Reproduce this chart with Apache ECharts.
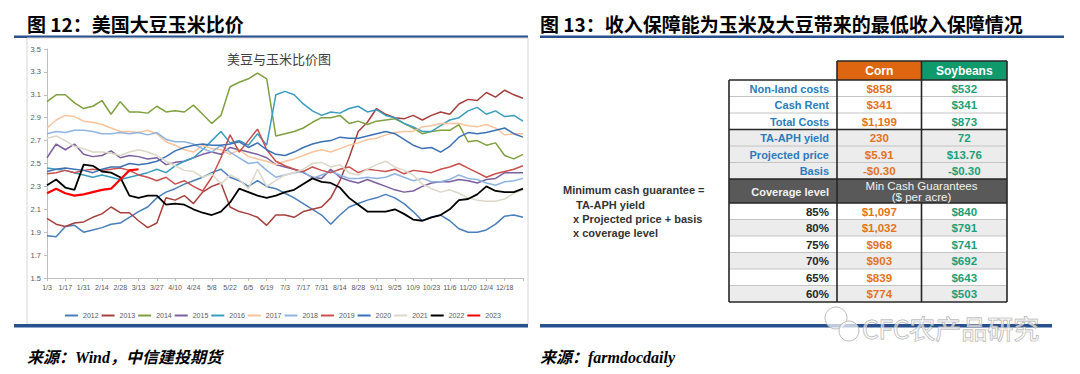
<!DOCTYPE html>
<html><head><meta charset="utf-8">
<script src="https://cdn.jsdelivr.net/npm/echarts@6/dist/echarts.min.js"></script>
<style>html,body{margin:0;padding:0;background:#fff}#c{width:1080px;height:374px}</style>
</head><body><div id="c"></div>
<script>
// ---------- data ----------
const weeks = ['1/3','1/10','1/17','1/24','1/31','2/7','2/14','2/21','2/28','3/6','3/13','3/20','3/27','4/3','4/10','4/17','4/24','5/1','5/8','5/15','5/22','5/29','6/5','6/12','6/19','6/26','7/3','7/10','7/17','7/24','7/31','8/7','8/14','8/21','8/28','9/4','9/11','9/18','9/25','10/2','10/9','10/16','10/23','10/30','11/6','11/13','11/20','11/27','12/4','12/11','12/18','12/25','1/1'];
const yTicks = [1.5,1.7,1.9,2.1,2.3,2.5,2.7,2.9,3.1,3.3,3.5];
const years = ['2012','2013','2014','2015','2016','2017','2018','2019','2020','2021','2022','2023'];

const s2012 = [1.87,1.86,1.95,1.96,1.90,1.92,1.94,1.97,1.98,2.03,2.08,2.12,2.20,2.25,2.28,2.32,2.35,2.38,2.42,2.45,2.38,2.35,2.30,2.35,2.30,2.28,2.24,2.20,2.15,2.10,2.05,1.97,2.05,2.12,2.15,2.18,2.20,2.23,2.20,2.15,2.08,2.00,2.03,2.05,2.00,1.93,1.90,1.90,1.92,1.97,2.04,2.05,2.03];
const s2013 = [2.02,1.97,1.95,1.98,1.99,2.03,2.06,2.12,2.07,2.07,2.00,1.94,1.98,2.20,2.18,2.22,2.15,2.25,2.30,2.33,2.12,2.08,2.06,2.03,1.96,2.05,2.05,2.03,2.08,2.10,2.12,2.20,2.35,2.55,2.78,2.86,2.98,2.93,2.90,2.89,2.92,2.88,2.92,2.95,2.93,3.02,3.06,3.05,3.12,3.08,3.14,3.10,3.07];
const s2014 = [3.04,3.10,3.10,3.03,2.98,3.00,3.05,2.93,3.04,2.95,2.95,2.94,3.00,2.95,2.96,2.95,3.01,2.93,2.85,2.92,3.17,3.21,3.24,3.29,3.24,2.74,2.76,2.78,2.81,2.86,2.90,2.90,2.92,2.85,2.87,2.84,2.87,2.88,2.89,2.85,2.81,2.76,2.78,2.79,2.79,2.84,2.69,2.70,2.66,2.68,2.57,2.54,2.58];
const s2015 = [2.55,2.67,2.62,2.67,2.58,2.56,2.57,2.61,2.55,2.57,2.56,2.54,2.55,2.49,2.51,2.52,2.55,2.58,2.60,2.58,2.64,2.62,2.60,2.58,2.55,2.49,2.47,2.45,2.42,2.38,2.37,2.45,2.38,2.35,2.33,2.36,2.33,2.30,2.27,2.25,2.26,2.30,2.33,2.34,2.34,2.36,2.35,2.33,2.36,2.37,2.42,2.42,2.42];
const s2016 = [2.46,2.45,2.44,2.42,2.40,2.38,2.40,2.38,2.36,2.38,2.40,2.42,2.45,2.42,2.48,2.52,2.55,2.62,2.70,2.78,2.68,2.70,2.66,2.76,2.66,3.10,3.13,3.10,3.02,2.96,2.92,2.95,2.94,2.98,3.00,2.95,2.97,2.92,2.90,2.85,2.82,2.78,2.78,2.83,2.88,2.90,2.96,2.99,2.93,2.96,2.91,2.92,2.87];
const s2017 = [2.81,2.88,2.92,2.91,2.87,2.86,2.84,2.81,2.78,2.78,2.77,2.79,2.76,2.69,2.66,2.62,2.60,2.66,2.63,2.62,2.58,2.62,2.56,2.54,2.52,2.49,2.52,2.54,2.57,2.60,2.62,2.60,2.63,2.66,2.68,2.71,2.72,2.75,2.77,2.78,2.78,2.82,2.83,2.85,2.85,2.85,2.83,2.82,2.84,2.81,2.75,2.76,2.76];
const s2018 = [2.76,2.78,2.77,2.79,2.79,2.78,2.76,2.76,2.77,2.76,2.77,2.75,2.77,2.71,2.69,2.69,2.67,2.63,2.60,2.66,2.60,2.55,2.50,2.51,2.44,2.38,2.40,2.42,2.43,2.37,2.40,2.43,2.40,2.37,2.37,2.38,2.37,2.38,2.41,2.38,2.35,2.37,2.34,2.34,2.36,2.40,2.37,2.36,2.33,2.31,2.34,2.35,2.37];
const s2019 = [2.41,2.42,2.44,2.42,2.44,2.45,2.44,2.45,2.46,2.44,2.40,2.38,2.35,2.38,2.32,2.35,2.30,2.26,2.38,2.55,2.75,2.60,2.70,2.80,2.62,2.52,2.48,2.45,2.43,2.47,2.44,2.42,2.45,2.47,2.42,2.45,2.44,2.43,2.45,2.41,2.44,2.43,2.42,2.45,2.47,2.50,2.46,2.42,2.38,2.41,2.43,2.45,2.48];
const s2020 = [2.43,2.45,2.46,2.45,2.44,2.42,2.45,2.47,2.47,2.50,2.49,2.50,2.52,2.56,2.61,2.64,2.66,2.67,2.66,2.66,2.67,2.69,2.64,2.68,2.62,2.58,2.57,2.60,2.64,2.67,2.69,2.70,2.73,2.72,2.72,2.74,2.76,2.78,2.76,2.71,2.66,2.63,2.64,2.60,2.65,2.73,2.77,2.76,2.77,2.79,2.81,2.76,2.73];
const s2021 = [2.72,2.74,2.70,2.65,2.63,2.60,2.60,2.59,2.57,2.60,2.62,2.60,2.57,2.52,2.48,2.44,2.43,2.38,2.41,2.32,2.40,2.36,2.28,2.45,2.30,2.35,2.40,2.42,2.45,2.50,2.51,2.47,2.49,2.42,2.40,2.45,2.49,2.52,2.47,2.44,2.40,2.32,2.28,2.25,2.27,2.24,2.20,2.18,2.17,2.17,2.19,2.24,2.27];
const s2022 = [2.31,2.36,2.29,2.27,2.49,2.48,2.43,2.42,2.38,2.22,2.20,2.22,2.22,2.14,2.15,2.14,2.10,2.07,2.05,2.08,2.16,2.28,2.25,2.22,2.20,2.22,2.25,2.27,2.32,2.37,2.34,2.33,2.29,2.20,2.14,2.08,2.08,2.08,2.10,2.06,2.01,2.00,2.03,2.05,2.10,2.18,2.19,2.23,2.30,2.26,2.25,2.25,2.28];
const s2023 = [2.24,2.28,2.24,2.22,2.23,2.25,2.27,2.28,2.36,2.44,2.45];

// table
const tableHeaders = ['Corn','Soybeans'];
const rowLabels = ['Non-land costs','Cash Rent','Total Costs','TA-APH yield','Projected price','Basis'];
const cornVals = ['$858','$341','$1,199','230','$5.91','-$0.30'];
const soyVals = ['$532','$341','$873','72','$13.76','-$0.30'];
const coverageHead = 'Coverage level';
const guarHead = ['Min Cash Guarantees','($ per acre)'];
const coverageLevels = ['85%','80%','75%','70%','65%','60%'];
const cornGuar = ['$1,097','$1,032','$968','$903','$839','$774'];
const soyGuar = ['$840','$791','$741','$692','$643','$503'];
const formulaLines = ['Minimum cash guarantee =','TA-APH yield','x Projected price + basis','x coverage level'];

// texts
const leftTitle = '图 12：美国大豆玉米比价';
const rightTitle = '图 13：收入保障能为玉米及大豆带来的最低收入保障情况';
const chartTitle = '美豆与玉米比价图';
const leftSource = '来源：Wind，中信建投期货';
const rightSource = '来源：farmdocdaily';
const watermark = 'CFC农产品研究';

// ---------- styles ----------
const seriesData = [s2012,s2013,s2014,s2015,s2016,s2017,s2018,s2019,s2020,s2021,s2022,s2023];
const colors = ['#4a7ebb','#a5403d','#80a040','#7b5fa0','#3a9cbf','#f9c49c','#8fb4e2','#c8504d','#3d71b5','#dcd8c8','#000000','#ff0000'];
const widths = [1.5,1.5,1.5,1.5,1.5,1.5,1.5,1.5,1.5,1.5,1.8,2.2];
const NAVY = '#27508f';
const CJK = '"Noto Sans CJK SC"';
const ARIAL = '"Liberation Sans", Arial';

const G = [];
function rect(x,y,w,h,fill,stroke,lw,z){G.push({type:'rect',shape:{x,y,width:w,height:h},style:{fill:fill||'none',stroke:stroke||null,lineWidth:lw||0},z:z||1,silent:true});}
function line(x1,y1,x2,y2,stroke,lw,z){G.push({type:'line',shape:{x1,y1,x2,y2},style:{stroke,lineWidth:lw},z:z||3,silent:true});}
function text(t,x,y,font,fill,align,extra,z){G.push({type:'text',x,y,style:Object.assign({text:t,font,fill,textAlign:align||'left',textVerticalAlign:'middle'},extra||{}),z:z||5,silent:true});}

// headers and bars
text(leftTitle,27,23,'bold 19px '+CJK,'#000');
text(rightTitle,540,23,'bold 19px '+CJK,'#000');
rect(14,35.5,514,2.5,NAVY);
rect(540,35.5,524,2.5,NAVY);
rect(27,38,501,286,'none','#d6d6d6',1);
rect(14,324,514,3.5,NAVY,null,0,2);
rect(540,324,512,3.5,NAVY,null,0,2);
text(leftSource,27,357,'italic bold 16px "Liberation Serif", '+CJK,'#000');
text(rightSource,540,357,'italic bold 16px "Liberation Serif", '+CJK,'#000');
text(chartTitle,279,58,'13px '+CJK,'#404040','center');

// watermark
G.push({type:'circle',shape:{cx:836,cy:318,r:11},style:{fill:'rgba(255,255,255,0.7)',stroke:'#bdbdbd',lineWidth:1},z:6,silent:true});
G.push({type:'circle',shape:{cx:849,cy:331,r:10},style:{fill:'rgba(255,255,255,0.7)',stroke:'#bdbdbd',lineWidth:1},z:6,silent:true});
text(watermark,862,327,'26px '+CJK,'rgba(255,255,255,0.55)','left',{stroke:'#a9a9a9',lineWidth:0.9},7);

// formula text
const fx = [563,576,573,573], fy = [190,204.5,218.5,232.5];
formulaLines.forEach((t,i)=>text(t,fx[i],fy[i],'bold 11px '+ARIAL,'#333'));

// table geometry
const TL=729, C1=837, C2=921.5, TR=1007;
const HT=61, HB=80, RH=16.5, DH0=179, DH1=203;
const cornX=(C1+C2)/2, soyX=(C2+TR)/2, labX=C1-8;
rect(C1,HT,C2-C1,HB-HT,'#df6611');
rect(C2,HT,TR-C2,HB-HT,'#0f9a6c');
text(tableHeaders[0],cornX,(HT+HB)/2+0.5,'bold 12px '+ARIAL,'#fff','center');
text(tableHeaders[1],soyX,(HT+HB)/2+0.5,'bold 12px '+ARIAL,'#fff','center');
rowLabels.forEach((lab,i)=>{
  const y0=HB+i*RH, cy=y0+RH/2+0.5;
  rect(TL,y0,TR-TL,RH,i>=3?'#ececec':'#ffffff');
  text(lab,labX,cy,'bold 11px '+ARIAL,'#2b7bbd','right');
  text(cornVals[i],cornX,cy,'bold 11.5px '+ARIAL,'#e4731c','center');
  text(soyVals[i],soyX,cy,'bold 11.5px '+ARIAL,'#1c9f78','center');
  if(i>0 && i!==3) line(TL,y0,TR,y0,'#c4c4c4',1);
});
rect(TL,DH0,TR-TL,DH1-DH0,'#595959');
text(coverageHead,labX,(DH0+DH1)/2+0.5,'bold 11px '+ARIAL,'#f2f2f2','right');
text(guarHead[0],C2,185.5,'11.5px '+ARIAL,'#f2f2f2','center');
text(guarHead[1],C2,196.5,'11.5px '+ARIAL,'#f2f2f2','center');
coverageLevels.forEach((lab,i)=>{
  const y0=DH1+i*RH, cy=y0+RH/2+0.5;
  rect(TL,y0,TR-TL,RH,i%2===1?'#ececec':'#ffffff');
  text(lab,labX,cy,'bold 11.5px '+ARIAL,'#262626','right');
  text(cornGuar[i],cornX,cy,'bold 11.5px '+ARIAL,'#e4731c','center');
  text(soyGuar[i],soyX,cy,'bold 11.5px '+ARIAL,'#1c9f78','center');
  if(i>0) line(TL,y0,TR,y0,'#c4c4c4',1);
});
const TB = DH1+6*RH;
[HB, HB+3*RH, DH0, DH1, TB].forEach(y=>line(TL,y,TR,y,'#262626',1.6,4));
line(C1,HT,TR,HT,'#262626',1.6,4);
line(TL,HB,TL,TB,'#262626',1.6,4);
line(C1,HT,C1,TB,'#262626',1.6,4);
line(C2,HT,C2,DH0,'#262626',1.6,4);
line(C2,DH1,C2,TB,'#262626',1.6,4);
line(TR,HT,TR,TB,'#262626',1.6,4);

// ---------- chart ----------
const chart = echarts.init(document.getElementById('c'), null, {renderer:'svg', width:1080, height:374});
chart.setOption({
  animation:false,
  backgroundColor:'#fff',
  grid:{left:47,right:557,top:49,bottom:96},
  legend:{
    data:years, top:307, left:60, icon:'rect', itemWidth:13, itemHeight:2, itemGap:3,
    textStyle:{fontSize:7, color:'#595959', fontFamily:ARIAL}
  },
  xAxis:{
    type:'category', boundaryGap:false, data:weeks,
    axisLine:{lineStyle:{color:'#bfbfbf'}},
    axisTick:{interval:(i)=>i%2===0, length:3, lineStyle:{color:'#bfbfbf'}},
    axisLabel:{interval:(i)=>i%2===0 && i<52, fontSize:7, color:'#595959', margin:6, fontFamily:ARIAL},
    splitLine:{show:false}
  },
  yAxis:{
    type:'value', min:1.5, max:3.5,
    axisLine:{show:true, lineStyle:{color:'#bfbfbf'}},
    axisTick:{show:true, length:3, customValues:yTicks, lineStyle:{color:'#bfbfbf'}},
    axisLabel:{customValues:yTicks, formatter:(v)=>v.toFixed(1), fontSize:7.5, color:'#595959', margin:6, fontFamily:ARIAL},
    splitLine:{show:false}
  },
  series: years.map((y,i)=>({
    name:y, type:'line', data:seriesData[i], symbol:'none', showSymbol:false,
    lineStyle:{color:colors[i], width:widths[i]}, itemStyle:{color:colors[i]},
    emphasis:{disabled:true}, z:2
  })),
  graphic:{elements:G}
});
</script>
</body></html>
